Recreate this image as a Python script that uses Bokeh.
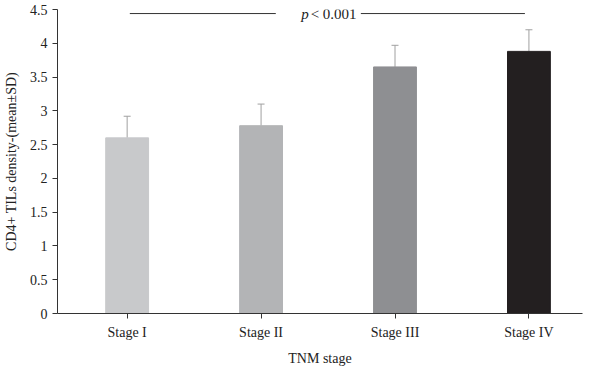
from bokeh.plotting import figure
from bokeh.models import ColumnDataSource, FixedTicker, Whisker, TeeHead, Range1d, Label
from bokeh.core.properties import value
from bokeh.embed import file_html
from bokeh.resources import INLINE

categories = ["Stage I", "Stage II", "Stage III", "Stage IV"]
means = [2.60, 2.78, 3.65, 3.88]
sds = [0.32, 0.32, 0.32, 0.32]
colors = ["#c8c9cb", "#b3b4b6", "#8e8f92", "#231f20"]
y_ticks = [0, 0.5, 1, 1.5, 2, 2.5, 3, 3.5, 4, 4.5]
y_tick_labels = ["0", "0.5", "1", "1.5", "2", "2.5", "3", "3.5", "4", "4.5"]
p_label = "< 0.001"

xs = list(range(len(categories)))
src = ColumnDataSource(dict(
    x=xs, top=means, color=colors,
    upper=[m + s for m, s in zip(means, sds)], lower=means,
))

FONT = "Liberation Serif"

p = figure(width=584, height=368, output_backend="svg", toolbar_location=None,
           x_range=Range1d(-0.52, 3.40), y_range=Range1d(0, 4.5),
           min_border_left=45, min_border_right=2, min_border_top=9, min_border_bottom=50)
p.outline_line_color = None
p.grid.visible = False
p.background_fill_color = "white"

p.vbar(x="x", top="top", width=0.32, color="color", source=src)

w = Whisker(base="x", upper="upper", lower="lower", source=src,
            line_color="#a0a0a0", line_width=1,
            upper_head=TeeHead(size=7, line_color="#a0a0a0", line_width=1),
            lower_head=None)
p.add_layout(w)

# significance line and label
p.segment(x0=[0.02, 1.745], y0=[4.44, 4.44], x1=[1.11, 2.97], y1=[4.44, 4.44],
          line_color="#333333", line_width=1)
p.add_layout(Label(x=1.30, y=4.44, text="p", text_font=FONT, text_font_style="italic",
                   text_font_size="15px", text_align="left", text_baseline="middle",
                   text_color="#222222"))
p.add_layout(Label(x=1.37, y=4.44, text=p_label, text_font=FONT,
                   text_font_size="15px", text_align="left", text_baseline="middle",
                   text_color="#222222"))

p.xaxis.ticker = FixedTicker(ticks=xs)
p.xaxis.major_label_overrides = {i: c for i, c in zip(xs, categories)}
p.yaxis.ticker = FixedTicker(ticks=y_ticks)
p.yaxis.major_label_overrides = {t: l for t, l in zip(y_ticks, y_tick_labels)}

for ax in (p.xaxis[0], p.yaxis[0]):
    ax.axis_line_color = "#333333"
    ax.major_tick_line_color = "#333333"
    ax.minor_tick_line_color = None
    ax.major_tick_out = 5
    ax.major_tick_in = 0
    ax.major_label_text_font = FONT
    ax.major_label_text_font_size = "14px"
    ax.major_label_text_color = "#222222"
    ax.axis_label_text_font = FONT
    ax.axis_label_text_font_size = "14px"
    ax.axis_label_text_font_style = "normal"
    ax.axis_label_text_color = "#222222"

p.xaxis.axis_label = "TNM stage"
p.yaxis.axis_label = "CD4+ TILs density-(mean±SD)"
p.xaxis.major_label_standoff = 6
p.xaxis.axis_label_standoff = 8
p.yaxis.major_label_standoff = 5
p.yaxis.axis_label_standoff = 8

open("out.html", "w").write(file_html(p, INLINE))
